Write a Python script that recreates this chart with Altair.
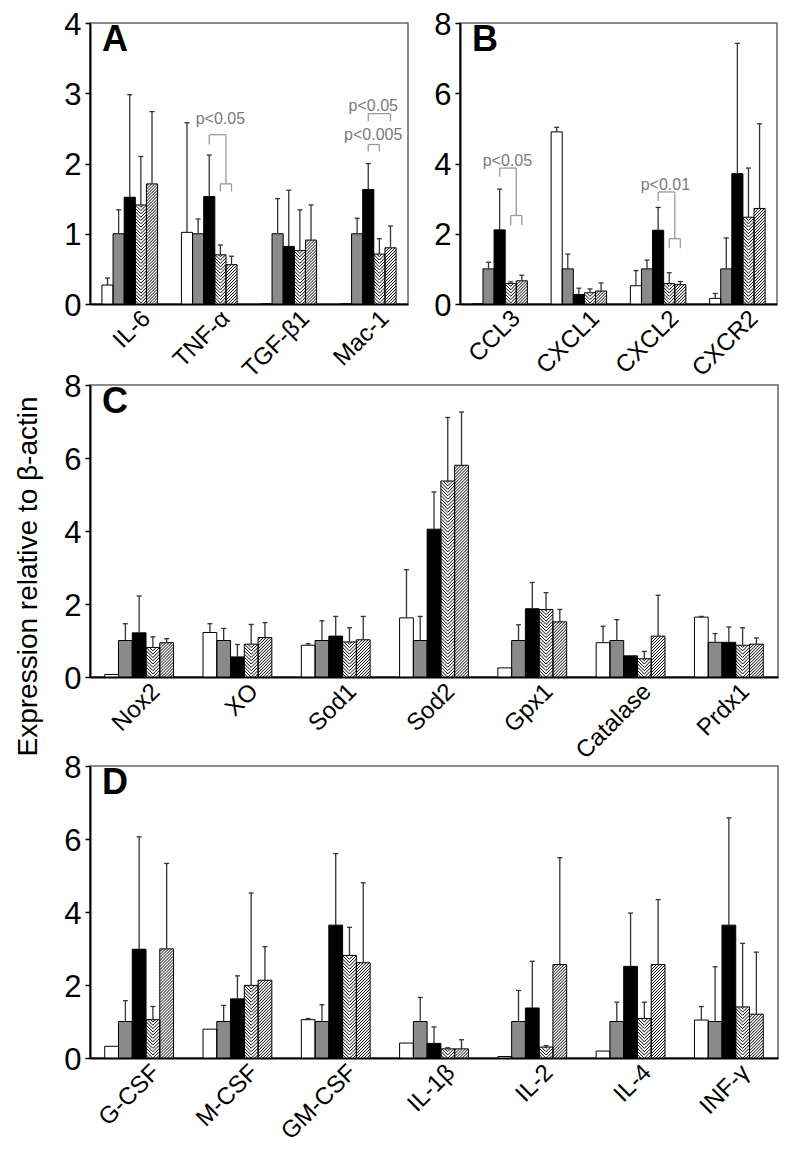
import altair as alt
import pandas as pd

FONT = "Liberation Sans"

# ---------------- data ----------------
A_cats = ["IL-6", "TNF-α", "TGF-β1", "Mac-1"]
A_white = [0.27, 1.02, 0.0, 0.0]
A_gray = [1.0, 1.0, 1.0, 1.0]
A_black = [1.52, 1.53, 0.82, 1.63]
A_hatch1 = [1.41, 0.70, 0.76, 0.71]
A_hatch2 = [1.71, 0.56, 0.91, 0.80]
A_white_err = [0.37, 2.58, None, None]
A_gray_err = [1.34, 1.21, 1.50, 1.22]
A_black_err = [2.98, 2.12, 1.62, 2.00]
A_hatch1_err = [2.10, 0.84, 1.34, 0.93]
A_hatch2_err = [2.74, 0.68, 1.41, 1.11]

B_cats = ["CCL3", "CXCL1", "CXCL2", "CXCR2"]
B_white = [0.0, 4.90, 0.52, 0.16]
B_gray = [1.0, 1.0, 1.0, 1.0]
B_black = [2.11, 0.27, 2.10, 3.71]
B_hatch1 = [0.58, 0.32, 0.58, 2.47]
B_hatch2 = [0.66, 0.37, 0.55, 2.72]
B_white_err = [None, 5.03, 0.95, 0.30]
B_gray_err = [1.19, 1.42, 1.25, 1.88]
B_black_err = [3.27, 0.45, 2.75, 7.42]
B_hatch1_err = [0.63, 0.43, 0.89, 3.87]
B_hatch2_err = [0.82, 0.60, 0.64, 5.13]

C_cats = ["Nox2", "XO", "Sod1", "Sod2", "Gpx1", "Catalase", "Prdx1"]
C_white = [0.07, 1.22, 0.87, 1.62, 0.25, 0.94, 1.64]
C_gray = [1.0, 1.0, 1.0, 1.0, 1.0, 1.0, 0.95]
C_black = [1.21, 0.55, 1.12, 4.05, 1.87, 0.58, 0.95]
C_hatch1 = [0.81, 0.90, 0.96, 5.37, 1.85, 0.50, 0.87]
C_hatch2 = [0.94, 1.08, 1.02, 5.80, 1.51, 1.12, 0.90]
C_white_err = [None, 1.46, 0.91, 2.94, None, 1.39, 1.66]
C_gray_err = [1.46, 1.33, 1.54, 1.66, 1.43, 1.57, 1.19]
C_black_err = [2.22, 0.89, 1.66, 5.07, 2.59, None, 1.37]
C_hatch1_err = [1.10, 1.44, 1.35, 7.11, 2.31, 0.70, 1.35]
C_hatch2_err = [1.05, 1.49, 1.66, 7.26, 1.85, 2.24, 1.07]

D_cats = ["G-CSF", "M-CSF", "GM-CSF", "IL-1β", "IL-2", "IL-4", "INF-γ"]
D_white = [0.32, 0.79, 1.05, 0.41, 0.04, 0.19, 1.04]
D_gray = [1.0, 1.0, 1.0, 1.0, 1.0, 1.0, 1.0]
D_black = [2.98, 1.62, 3.64, 0.40, 1.37, 2.51, 3.64]
D_hatch1 = [1.05, 1.99, 2.81, 0.25, 0.30, 1.08, 1.40]
D_hatch2 = [2.99, 2.13, 2.61, 0.25, 2.56, 2.56, 1.20]
D_white_err = [None, None, 1.08, None, None, None, 1.41]
D_gray_err = [1.57, 1.44, 1.46, 1.66, 1.85, 1.53, 2.50]
D_black_err = [6.06, 2.25, 5.60, 0.85, 2.65, 3.97, 6.58]
D_hatch1_err = [1.41, 4.52, 3.58, 0.28, 0.34, 1.53, 3.14]
D_hatch2_err = [5.33, 3.05, 4.80, 0.50, 5.49, 4.34, 2.90]

# significance brackets: (category, from bar, to bar, top y, left leg end y, right leg end y)
A_brackets = [(1, 2, 3.5, 2.41, 2.27, 1.71), (1, 3, 4, 1.71, 1.60, 1.60),
              (3, 2, 3, 2.27, 2.17, 2.17), (3, 2, 4, 2.71, 2.60, 2.60)]
A_ptexts = [(1, 3.0, 2.63, "p<0.05"), (3, 2.45, 2.40, "p<0.005"), (3, 2.45, 2.82, "p<0.05")]
B_brackets = [(0, 2, 3.5, 3.87, 3.62, 2.52), (0, 3, 4, 2.52, 2.24, 2.24),
              (2, 2, 3.5, 3.19, 2.93, 1.86), (2, 3, 4, 1.86, 1.59, 1.59)]
B_ptexts = [(0, 2.7, 4.07, "p<0.05"), (2, 2.65, 3.39, "p<0.01")]

GROUP_KEYS = ["white", "gray", "black", "hatch1", "hatch2"]
GROUP_FILLS = ["#ffffff", "#8a8a8a", "#000000", "#ffffff", "#ffffff"]

# ---------------- layout constants ----------------
PAD = 0.15
BW = 0.14
CAP_PX = 2.5
HATCH_STEP = {"hatch1": 3.3, "hatch2": 3.0}


def gx(i, g):
    return i + PAD + BW * (g + 0.5)


def hatch_segments(x0, x1, v, sx, sy, kind, step):
    out = []
    w = (x1 - x0) * sx
    V = v * sy
    if V <= 0.5:
        return out
    cols = [(0.0, w, 1)] if kind == "diag" else [(0.0, w / 2, -1), (w / 2, w, 1)]
    for a, b, s in cols:
        cw = b - a
        k = 0
        while True:
            if s > 0:
                c = k * step - cw
                if c > V:
                    break
                t0 = max(a, a - c)
                t1 = min(b, a + V - c)
            else:
                c = k * step
                if c > V + cw:
                    break
                t0 = max(a, a + c - V)
                t1 = min(b, a + c)
            k += 1
            if t1 - t0 > 0.3:
                y0 = c + s * (t0 - a)
                y1 = c + s * (t1 - a)
                out.append((x0 + t0 / sx, y0 / sy, x0 + t1 / sx, y1 / sy))
    return out


def make_panel(cats, series, errs, width, height, ymax, yvals, letter,
               brackets=(), ptexts=()):
    n = len(cats)
    sx = width / n
    sy = height / ymax
    bars, errl, caps, hat = [], [], [], []
    for i in range(n):
        for g, key in enumerate(GROUP_KEYS):
            v = series[g][i]
            x0 = i + PAD + BW * g
            x1 = x0 + BW
            xc = gx(i, g)
            bars.append({"x0": x0, "x1": x1, "v": v, "base": 0.0, "grp": key})
            e = errs[g][i]
            if e is not None:
                errl.append({"xc": xc, "v": v, "e": e})
                caps.append({"c0": xc - CAP_PX / sx, "c1": xc + CAP_PX / sx, "e": e})
            if key in ("hatch1", "hatch2"):
                kind = "chevron" if key == "hatch1" else "diag"
                for (ax, ay, bx, by) in hatch_segments(x0, x1, v, sx, sy, kind, HATCH_STEP[key]):
                    hat.append({"hx": ax, "hy": ay, "hx2": bx, "hy2": by})

    label_expr = "[" + ",".join("'" + c + "'" for c in cats) + "][floor(datum.value)]"
    xs = alt.Scale(domain=[0, n], nice=False, zero=False)
    ys = alt.Scale(domain=[0, ymax], nice=False, zero=True)
    xaxis = alt.Axis(values=[i + 0.5 for i in range(n)], labelExpr=label_expr, title=None,
                     ticks=False, grid=False, domainColor="black", domainWidth=2,
                     labelAngle=-45, labelAlign="right", labelBaseline="top",
                     labelFontSize=24, labelFont=FONT, labelColor="black",
                     labelPadding=2, labelOffset=8, labelOverlap=False, labelFlush=False)
    yaxis = alt.Axis(values=yvals, title=None, grid=False, domainColor="black", domainWidth=2,
                     tickColor="black", tickSize=5, tickWidth=1.5, labelFontSize=31,
                     labelFont=FONT, labelColor="black", labelPadding=4, labelOffset=2,
                     labelFlush=False, labelOverlap=False, format="d")

    def X(f):
        return alt.X(f, type="quantitative", scale=xs, axis=xaxis)

    def Y(f):
        return alt.Y(f, type="quantitative", scale=ys, axis=yaxis)

    dbars = pd.DataFrame(bars)
    fill_l = alt.Chart(dbars).mark_rect(strokeWidth=0).encode(
        x=X("x0"), x2=alt.X2("x1"), y=Y("v"), y2=alt.Y2("base"),
        fill=alt.Fill("grp:N", scale=alt.Scale(domain=GROUP_KEYS, range=GROUP_FILLS), legend=None))
    hatch_l = alt.Chart(pd.DataFrame(hat)).mark_rule(color="black", strokeWidth=1.0).encode(
        x=X("hx"), x2=alt.X2("hx2"), y=Y("hy"), y2=alt.Y2("hy2"))
    out_l = alt.Chart(dbars).mark_rect(fillOpacity=0, stroke="black", strokeWidth=1).encode(
        x=X("x0"), x2=alt.X2("x1"), y=Y("v"), y2=alt.Y2("base"))
    err_l = alt.Chart(pd.DataFrame(errl)).mark_rule(color="#333333", strokeWidth=1.3).encode(
        x=X("xc"), y=Y("v"), y2=alt.Y2("e"))
    cap_l = alt.Chart(pd.DataFrame(caps)).mark_rule(color="#333333", strokeWidth=1.3).encode(
        x=X("c0"), x2=alt.X2("c1"), y=Y("e"))
    layers = [fill_l, hatch_l, out_l, err_l, cap_l]

    if brackets:
        segs = []
        for (i, gl, gr, y, yl, yr) in brackets:
            xl, xr = gx(i, gl), gx(i, gr)
            segs += [{"bx": xl, "by": y, "bx2": xr, "by2": y},
                     {"bx": xl, "by": y, "bx2": xl, "by2": yl},
                     {"bx": xr, "by": y, "bx2": xr, "by2": yr}]
        layers.append(alt.Chart(pd.DataFrame(segs)).mark_rule(color="#9a9a9a", strokeWidth=1.3).encode(
            x=X("bx"), x2=alt.X2("bx2"), y=Y("by"), y2=alt.Y2("by2")))
    if ptexts:
        txt = [{"tx": gx(i, g), "ty": y, "label": s} for (i, g, y, s) in ptexts]
        layers.append(alt.Chart(pd.DataFrame(txt)).mark_text(
            font=FONT, fontSize=16, color="#7a7a7a", align="center", baseline="middle").encode(
            x=X("tx"), y=Y("ty"), text="label:N"))

    return alt.layer(*layers).properties(
        width=width, height=height,
        title=alt.TitleParams(letter, anchor="start", frame="group", orient="top", offset=-50,
                              dx=12, fontSize=36, fontWeight="bold", font=FONT, color="black"))


pA = make_panel(A_cats, [A_white, A_gray, A_black, A_hatch1, A_hatch2],
                [A_white_err, A_gray_err, A_black_err, A_hatch1_err, A_hatch2_err],
                318, 281, 4, [0, 1, 2, 3, 4], "A", A_brackets, A_ptexts)
pB = make_panel(B_cats, [B_white, B_gray, B_black, B_hatch1, B_hatch2],
                [B_white_err, B_gray_err, B_black_err, B_hatch1_err, B_hatch2_err],
                317, 281, 8, [0, 2, 4, 6, 8], "B", B_brackets, B_ptexts)
pC = make_panel(C_cats, [C_white, C_gray, C_black, C_hatch1, C_hatch2],
                [C_white_err, C_gray_err, C_black_err, C_hatch1_err, C_hatch2_err],
                688, 292, 8, [0, 2, 4, 6, 8], "C")
pD = make_panel(D_cats, [D_white, D_gray, D_black, D_hatch1, D_hatch2],
                [D_white_err, D_gray_err, D_black_err, D_hatch1_err, D_hatch2_err],
                688, 292, 8, [0, 2, 4, 6, 8], "D")

row1 = alt.hconcat(pA, pB, spacing=24)
lower = alt.vconcat(pC, pD, spacing=-13)
chart = alt.vconcat(row1, lower, spacing=-13).properties(
    title=alt.TitleParams("Expression relative to β-actin", orient="left", anchor="middle",
                          fontSize=28, font=FONT, fontWeight="normal", color="black", offset=20),
    padding={"left": 7, "top": 0, "right": 0, "bottom": 0},
).configure_view(stroke="#666666", strokeWidth=1.5)

chart.save("out.html", embed_options={"renderer": "svg", "actions": False})
